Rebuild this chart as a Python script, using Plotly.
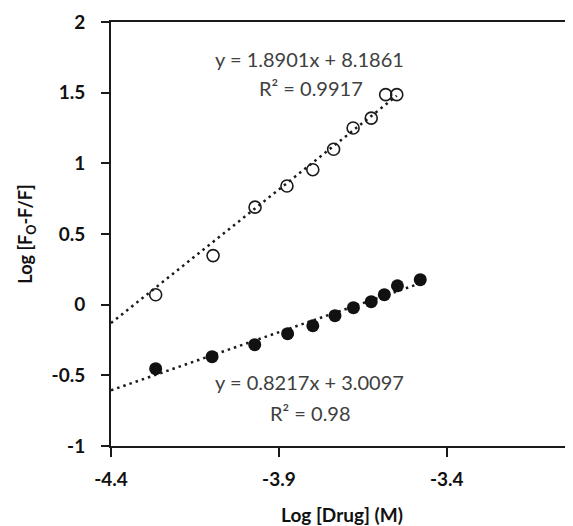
import plotly.graph_objects as go

# Open circles (upper series)
x_open = [-4.267, -4.096, -3.971, -3.876, -3.799, -3.737, -3.679, -3.625, -3.582, -3.549]
y_open = [0.07, 0.347, 0.69, 0.84, 0.955, 1.10, 1.25, 1.32, 1.486, 1.486]

# Filled circles (lower series)
x_fill = [-4.267, -4.099, -3.972, -3.874, -3.799, -3.733, -3.678, -3.625, -3.586, -3.547, -3.479]
y_fill = [-0.453, -0.368, -0.283, -0.205, -0.149, -0.078, -0.021, 0.021, 0.071, 0.134, 0.177]

# Trendline coefficients (from chart labels)
slope_open, icpt_open = 1.8901, 8.1861
slope_fill, icpt_fill = 0.8217, 3.0097
trend_open_x = [-4.4, -3.549]
trend_fill_x = [-4.4, -3.479]

x_ticks = [-4.4, -3.9, -3.4]
y_ticks = [-1, -0.5, 0, 0.5, 1, 1.5, 2]
y_ticklabels = ["-1", "-0.5", "0", "0.5", "1", "1.5", "2"]

font_family = "Lato, Noto Sans, sans-serif"
dot_line = dict(color="#1a1a1a", width=2.5, dash="2.5px,4px")

fig = go.Figure()
fig.add_trace(go.Scatter(x=trend_open_x, y=[slope_open * v + icpt_open for v in trend_open_x],
                         mode="lines", line=dot_line, showlegend=False, hoverinfo="skip"))
fig.add_trace(go.Scatter(x=trend_fill_x, y=[slope_fill * v + icpt_fill for v in trend_fill_x],
                         mode="lines", line=dot_line, showlegend=False, hoverinfo="skip"))
fig.add_trace(go.Scatter(x=x_open, y=y_open, mode="markers",
                         marker=dict(symbol="circle-open", size=12, color="#1a1a1a",
                                     line=dict(width=1.6, color="#1a1a1a")),
                         showlegend=False))
fig.add_trace(go.Scatter(x=x_fill, y=y_fill, mode="markers",
                         marker=dict(symbol="circle", size=13, color="#111"),
                         showlegend=False))

ann_font = dict(family=font_family, size=20, color="#404040")
fig.add_annotation(x=-3.808, y=1.741, text="y = 1.8901x + 8.1861", showarrow=False, font=ann_font, xanchor="center")
fig.add_annotation(x=-3.805, y=1.536, text="R² = 0.9917", showarrow=False, font=ann_font, xanchor="center")
fig.add_annotation(x=-3.808, y=-0.545, text="y = 0.8217x + 3.0097", showarrow=False, font=ann_font, xanchor="center")
fig.add_annotation(x=-3.805, y=-0.764, text="R² = 0.98", showarrow=False, font=ann_font, xanchor="center")

# page body has an 8px margin: figure is offset by (8, 8) in the window
fig.update_layout(
    width=565, height=518,
    margin=dict(l=103, r=0, t=14, b=80),
    plot_bgcolor="white", paper_bgcolor="white",
    font=dict(family=font_family, size=19, color="#111"),
)
fig.update_xaxes(range=[-4.4, -4.4 + (573 - 110.7) / 336], tickvals=x_ticks,
                 ticktext=["<b>%s</b>" % v for v in x_ticks],
                 showgrid=False, zeroline=False, showline=True, linecolor="#1a1a1a", linewidth=2,
                 mirror=True, ticks="outside", ticklen=9, tickwidth=2, tickcolor="#1a1a1a",
                 ticklabelstandoff=6,
                 tickfont=dict(size=19, color="#111"),
                 title=dict(text="<b>Log [Drug] (M)</b>", font=dict(size=19, color="#111"), standoff=20))
fig.update_yaxes(range=[-1, 2], tickvals=y_ticks, ticktext=["<b>%s</b>" % t for t in y_ticklabels],
                 showgrid=False, zeroline=False, showline=True, linecolor="#1a1a1a", linewidth=2,
                 ticks="outside", ticklen=8, tickwidth=2, tickcolor="#1a1a1a",
                 ticklabelstandoff=12,
                 tickfont=dict(size=19, color="#111"),
                 title=dict(text="<b>Log [F<sub>O</sub>-F/F]</b>", font=dict(size=18, color="#111"), standoff=14))

fig.write_html("out.html")
